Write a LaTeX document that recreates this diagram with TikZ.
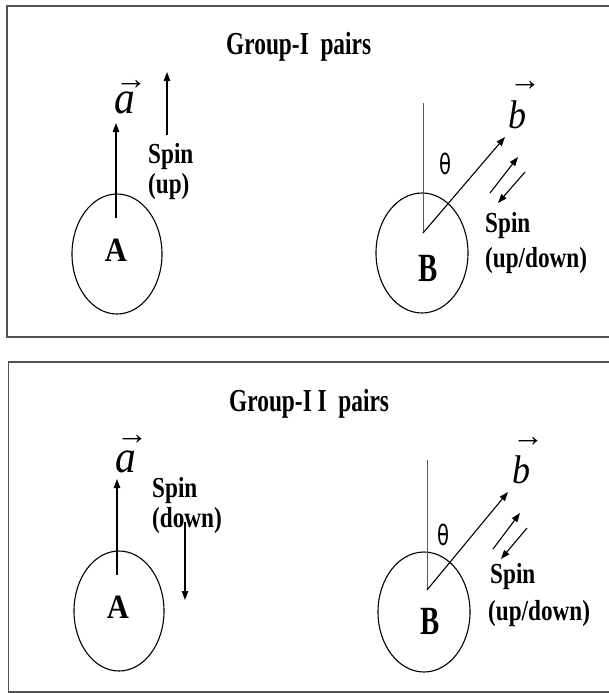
\documentclass[tikz,border=0pt]{standalone}
\usepackage{fontspec}
\setmainfont{Liberation Serif}
\newfontfamily\sansgr{DejaVu Sans}
\usetikzlibrary{arrows.meta,shapes.geometric}
\newcommand\bt[3]{\scalebox{#2}[1]{\fontsize{#1}{#1}\selectfont\bfseries #3}}
\newcommand\vecl[4]{\rlap{\hspace{#2}\raisebox{#1}[0pt][0pt]{\fontsize{32}{32}\selectfont →}}\scalebox{0.9}[1]{\fontsize{#3}{#3}\selectfont\itshape #4}}
\newcommand\thetalbl{\scalebox{0.7}[1]{\fontsize{28}{28}\selectfont\sansgr θ}}
\tikzset{
  frame/.style={draw=black!68, line width=1.6pt},
  particle/.style={draw=black, line width=1.1pt, ellipse, minimum width=90pt, minimum height=120pt, inner sep=0pt},
  vecarrow/.style={draw=black, line width=1.1pt, -{Triangle[length=9pt,width=6.5pt]}},
  axisline/.style={draw=black!65, line width=0.9pt},
  txt/.style={anchor=base west, inner sep=0pt},
  lbl/.style={anchor=base, inner sep=0pt},
}
\begin{document}
\begin{tikzpicture}[x=1pt,y=-1pt]
\useasboundingbox (0,0) rectangle (609,693);
\clip (0,0) rectangle (609,693);
\fill[white] (0,0) rectangle (609,693);

% ===== Top panel =====
\draw[frame] (7,6) rectangle (630,337);
\node[txt] (title1) at (226,55) {\bt{32}{0.73}{Group-I~~pairs}};

\node[particle] (pA1) at (117,254) {};
\node[lbl] (labA1) at (116,261) {\bt{34}{0.9}{A}};
\coordinate (aS1) at (116,218);
\coordinate (aT1) at (116,123);
\draw[vecarrow] (aS1) -- (aT1);
\node[txt] (veca1) at (114,113) {\vecl{24pt}{1pt}{46}{a}};
\coordinate (sA1s) at (167,135);
\coordinate (sA1t) at (167,72);
\draw[vecarrow] (sA1s) -- (sA1t);
\node[txt] (spinA1) at (148,163) {\bt{29}{0.8}{Spin}};
\node[txt] (upA1) at (148,193) {\bt{29}{0.8}{(up)}};

\node[particle, minimum width=92pt] (pB1) at (422,253) {};
\node[lbl] (labB1) at (428,281) {\bt{40}{0.72}{B}};
\coordinate (o1) at (423,233);
\coordinate (v1) at (423,103);
\coordinate (bT1) at (505,137);
\draw[axisline] (o1) -- (v1);
\draw[vecarrow] (o1) -- (bT1);
\node[inner sep=0pt] (th1) at (445,164) {\thetalbl};
\node[txt] (vecb1) at (508,128) {\vecl{38pt}{1pt}{40}{b}};
\coordinate (u1s) at (490,193);
\coordinate (u1t) at (518,157);
\coordinate (d1s) at (525,172);
\coordinate (d1t) at (498,203);
\draw[vecarrow] (u1s) -- (u1t);
\draw[vecarrow] (d1s) -- (d1t);
\node[txt] (spinB1) at (485,232) {\bt{29}{0.8}{Spin}};
\node[txt] (udB1) at (485,267) {\bt{29}{0.8}{(up/down)}};

% ===== Bottom panel =====
\draw[frame] (8.5,362) rectangle (630,692);
\node[txt] (title2) at (229,411) {\bt{32}{0.73}{Group-I I~~pairs}};

\node[particle] (pA2) at (119,611) {};
\node[lbl] (labA2) at (118,618) {\bt{34}{0.9}{A}};
\coordinate (aS2) at (117,575);
\coordinate (aT2) at (117,479);
\draw[vecarrow] (aS2) -- (aT2);
\node[txt] (veca2) at (115,472) {\vecl{28pt}{1pt}{46}{a}};
\node[txt] (spinA2) at (152,497) {\bt{29}{0.8}{Spin}};
\node[txt] (downA2) at (152,527) {\bt{29}{0.8}{(down)}};
\coordinate (sA2s) at (185,522);
\coordinate (sA2t) at (185,600);
\draw[vecarrow] (sA2s) -- (sA2t);

\node[particle, minimum width=92pt] (pB2) at (424,612) {};
\node[lbl] (labB2) at (430,634) {\bt{40}{0.72}{B}};
\coordinate (o2) at (427,590);
\coordinate (v2) at (427,460);
\coordinate (bT2) at (508,492);
\draw[axisline] (o2) -- (v2);
\draw[vecarrow] (o2) -- (bT2);
\node[inner sep=0pt] (th2) at (443,535) {\thetalbl};
\node[txt] (vecb2) at (512,483) {\vecl{37pt}{0pt}{40}{b}};
\coordinate (u2s) at (493,549);
\coordinate (u2t) at (520,513);
\coordinate (d2s) at (527,528);
\coordinate (d2t) at (501,559);
\draw[vecarrow] (u2s) -- (u2t);
\draw[vecarrow] (d2s) -- (d2t);
\node[txt] (spinB2) at (490,583) {\bt{29}{0.8}{Spin}};
\node[txt] (udB2) at (488,620) {\bt{29}{0.8}{(up/down)}};
\end{tikzpicture}
\end{document}
